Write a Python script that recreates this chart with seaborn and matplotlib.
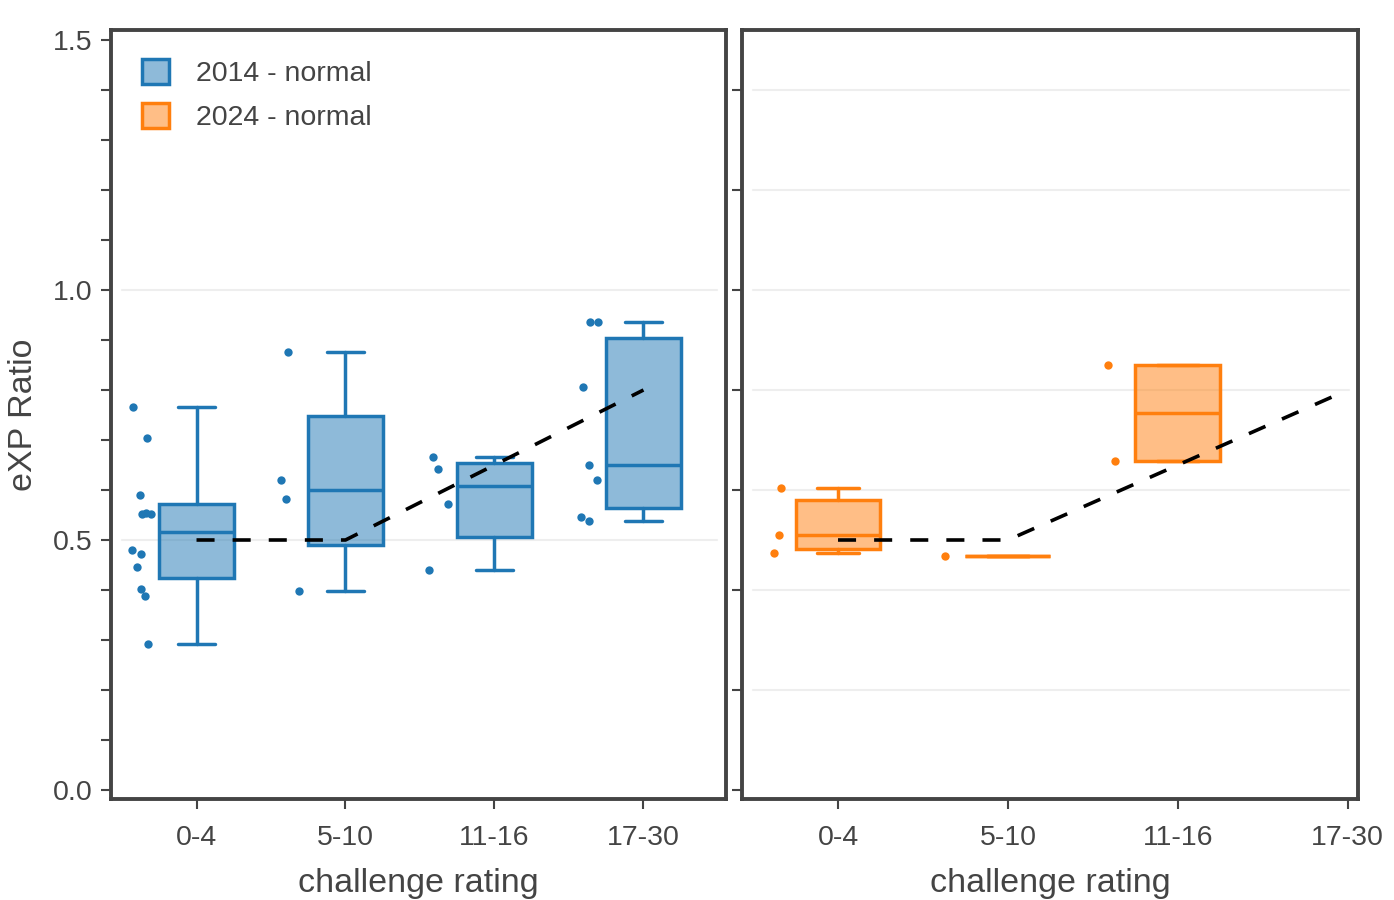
import numpy as np
import pandas as pd
import matplotlib
matplotlib.use("Agg")
import matplotlib.pyplot as plt
import seaborn as sns
from matplotlib.patches import Patch
from matplotlib.ticker import MultipleLocator

# challenge rating buckets
cr_levels = ["0-4", "5-10", "11-16", "17-30"]

# eXP ratio of each encounter, 2014 rules (normal difficulty)
ratio_2014_cr0_4 = [0.766, 0.704, 0.590, 0.554, 0.552, 0.552, 0.472, 0.480, 0.446, 0.402, 0.388, 0.292]
ratio_2014_cr5_10 = [0.876, 0.620, 0.582, 0.398]
ratio_2014_cr11_16 = [0.666, 0.642, 0.573, 0.441]
ratio_2014_cr17_30 = [0.936, 0.936, 0.806, 0.650, 0.620, 0.546, 0.538]

# eXP ratio of each encounter, 2024 rules (normal difficulty)
ratio_2024_cr0_4 = [0.604, 0.510, 0.474]
ratio_2024_cr5_10 = [0.468]
ratio_2024_cr11_16 = [0.850, 0.658]

# reference curve (dashed)
target_ratio = [0.5, 0.5, 0.65, 0.8]

BLUE = "#1f77b4"
ORANGE = "#ff7f0e"
TEXT = "#444444"
LW = 2.5


def long_df(groups):
    rows = []
    for cr, vals in groups:
        rows += [(cr, v) for v in vals]
    return pd.DataFrame(rows, columns=["cr", "ratio"])


def box_stats(vals):
    v = np.asarray(vals, dtype=float)
    q1, med, q3 = np.percentile(v, [25, 50, 75], method="hazen")
    iqr = q3 - q1
    return dict(med=med, q1=q1, q3=q3,
                whislo=v[v >= q1 - 1.5 * iqr].min(),
                whishi=v[v <= q3 + 1.5 * iqr].max(),
                fliers=[])


sns.set_theme(style="ticks")
plt.rcParams["font.family"] = ["Liberation Sans", "DejaVu Sans"]
plt.rcParams["text.color"] = TEXT
plt.rcParams["axes.labelcolor"] = TEXT

fig = plt.figure(figsize=(13.94, 9), dpi=100)
ax_l = fig.add_axes([111 / 1394, 101 / 900, 615 / 1394, 769 / 900])
ax_r = fig.add_axes([742 / 1394, 101 / 900, 616 / 1394, 769 / 900])

panels = [
    (ax_l, BLUE, [ratio_2014_cr0_4, ratio_2014_cr5_10, ratio_2014_cr11_16, ratio_2014_cr17_30],
     (-0.574, 3.554), [0.5, 1.0]),
    (ax_r, ORANGE, [ratio_2024_cr0_4, ratio_2024_cr5_10, ratio_2024_cr11_16],
     (-0.565, 3.06), [0.2, 0.4, 0.6, 0.8, 1.0, 1.2, 1.4]),
]

np.random.seed(7)
for ax, color, groups, xlim, grid_vals in panels:
    fill = matplotlib.colors.to_rgba(color, 0.5)
    for g in grid_vals:
        ax.axhline(g, xmin=0.018, xmax=0.985, color="#eeeeee", lw=1.5, zorder=0)

    df = long_df(zip(cr_levels, groups))
    sns.stripplot(data=df, x="cr", y="ratio", order=cr_levels, color=color,
                  size=6, jitter=0.07, linewidth=0, ax=ax, zorder=3)
    # points sit to the left of their box
    for coll in ax.collections:
        off = coll.get_offsets()
        off[:, 0] -= 0.37
        coll.set_offsets(off)

    stats = [box_stats(g) for g in groups]
    ax.bxp(stats, positions=list(range(len(stats))), widths=0.5, patch_artist=True,
           showfliers=False, manage_ticks=False, zorder=2,
           boxprops=dict(facecolor=fill, edgecolor=color, linewidth=LW),
           medianprops=dict(color=color, linewidth=LW),
           whiskerprops=dict(color=color, linewidth=LW),
           capprops=dict(color=color, linewidth=LW))

    sns.lineplot(x=cr_levels, y=target_ratio, sort=False, errorbar=None, color="black",
                 lw=2.6, linestyle=(0, (5, 5)), ax=ax, zorder=5)

    ax.set_xlim(*xlim)
    ax.set_ylim(-0.018, 1.52)
    ax.set_xlabel("challenge rating", fontsize=24.5, color=TEXT, labelpad=12)
    for s in ax.spines.values():
        s.set_visible(True)
        s.set_color(TEXT)
        s.set_linewidth(2.8)
    ax.tick_params(axis="both", which="both", length=7, width=1.5, color=TEXT,
                   labelcolor=TEXT, labelsize=20.5)
    ax.tick_params(axis="x", pad=12)
    ax.tick_params(axis="y", pad=6.5)

ax_l.yaxis.set_major_locator(MultipleLocator(0.5))
ax_l.yaxis.set_minor_locator(MultipleLocator(0.1))
ax_l.yaxis.set_major_formatter(matplotlib.ticker.FormatStrFormatter("%.1f"))
ax_l.set_ylabel("eXP Ratio", fontsize=24.5, color=TEXT, labelpad=10)

ax_r.yaxis.set_major_locator(MultipleLocator(0.2))
ax_r.tick_params(axis="y", labelleft=False)
ax_r.set_ylabel("")

handles = [
    Patch(facecolor=matplotlib.colors.to_rgba(BLUE, 0.5), edgecolor=BLUE, linewidth=LW, label="2014 - normal"),
    Patch(facecolor=matplotlib.colors.to_rgba(ORANGE, 0.5), edgecolor=ORANGE, linewidth=LW, label="2024 - normal"),
]
ax_l.legend(handles=handles, loc="upper left", bbox_to_anchor=(0.05, 0.962), frameon=False,
            fontsize=20.5, labelcolor=TEXT, handlelength=0.95, handleheight=0.95,
            handletextpad=0.95, labelspacing=0.55, borderpad=0, borderaxespad=0)

fig.savefig("out.png", dpi=100)
